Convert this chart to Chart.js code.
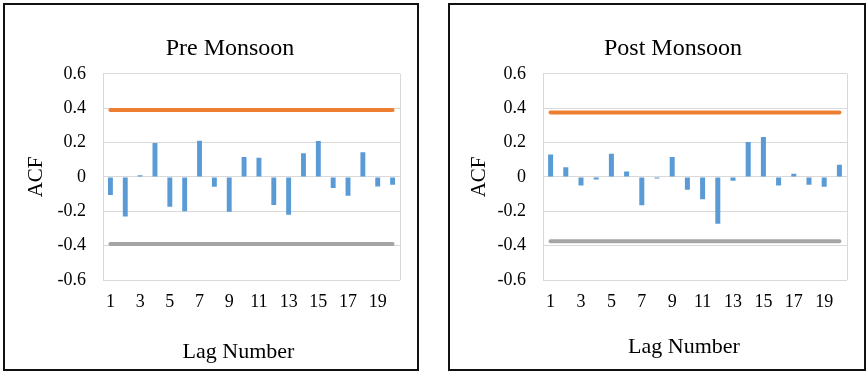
<!DOCTYPE html>
<html>
<head>
<meta charset="utf-8">
<script src="https://cdn.jsdelivr.net/npm/chart.js@4.4.1/dist/chart.umd.min.js"></script>
<style>
  body { margin: 0; background: #fff; width: 867px; height: 372px; position: relative; overflow: hidden; }
  .panel { position: absolute; top: 3px; height: 368px; border: 2px solid #111; box-sizing: border-box; }
  #p1 { left: 3px; width: 416px; }
  #p2 { left: 448px; width: 418px; }
  canvas { display: block; }
</style>
</head>
<body>
<div class="panel" id="p1"><canvas id="pre"></canvas></div>
<div class="panel" id="p2"><canvas id="post"></canvas></div>
<script>
const lags = ['1','2','3','4','5','6','7','8','9','10','11','12','13','14','15','16','17','18','19','20'];
const preAcf = [-0.106, -0.23, 0.01, 0.197, -0.174, -0.2, 0.211, -0.058, -0.203, 0.116,
                0.112, -0.163, -0.22, 0.137, 0.209, -0.064, -0.11, 0.143, -0.056, -0.045];
const postAcf = [0.13, 0.056, -0.05, -0.015, 0.135, 0.031, -0.165, -0.01, 0.116, -0.075,
                 -0.13, -0.273, -0.023, 0.203, 0.232, -0.05, 0.019, -0.046, -0.058, 0.07];
const preLimit = 0.39;
const postLimit = 0.375;
const yTicks = [-0.6, -0.4, -0.2, 0, 0.2, 0.4, 0.6];

const serif = 'Liberation Serif';

// light frame on the right side of the plot area, like Excel draws it
const plotEdge = {
  id: 'plotEdge',
  afterDraw(chart) {
    const {ctx, chartArea} = chart;
    ctx.save();
    ctx.strokeStyle = '#d9d9d9';
    ctx.lineWidth = 1;
    ctx.beginPath();
    ctx.moveTo(chartArea.right + 0.5, chartArea.top);
    ctx.lineTo(chartArea.right + 0.5, chartArea.bottom);
    ctx.stroke();
    ctx.restore();
  }
};

// nudge chart title and x title sideways (Excel does not centre them on the canvas)
const titleShift = {
  id: 'titleShift',
  afterLayout(chart, args, opts) {
    chart.titleBlock.left += opts.title;
    chart.titleBlock.right += opts.title;
    const sx = chart.scales.x;
    if (!sx._shifted) {
      const orig = sx.drawTitle;
      const dx = opts.xTitle;
      sx.drawTitle = function () {
        this.ctx.save();
        this.ctx.translate(dx, 0);
        orig.call(this);
        this.ctx.restore();
      };
      sx._shifted = true;
    }
  }
};

function makeChart(id, w, h, title, values, limit, padLeft, yWidth, xTitleBottom, shift) {
  const canvas = document.getElementById(id);
  canvas.width = w;
  canvas.height = h;
  return new Chart(canvas.getContext('2d'), {
    type: 'bar',
    data: {
      labels: lags,
      datasets: [
        {
          type: 'line',
          label: 'Upper',
          data: [{x: lags[0], y: limit}, {x: lags[lags.length - 1], y: limit}],
          borderColor: '#ED7D31',
          borderWidth: 4,
          borderCapStyle: 'round',
          pointRadius: 0
        },
        {
          type: 'line',
          label: 'Lower',
          data: [{x: lags[0], y: -limit}, {x: lags[lags.length - 1], y: -limit}],
          borderColor: '#A5A5A5',
          borderWidth: 4,
          borderCapStyle: 'round',
          pointRadius: 0
        },
        {
          label: 'ACF',
          data: values,
          backgroundColor: '#5B9BD5',
          barPercentage: 0.33,
          categoryPercentage: 1
        }
      ]
    },
    options: {
      responsive: false,
      animation: false,
      layout: { padding: { top: 29, left: padLeft, right: 17, bottom: 2 } },
      scales: {
        x: {
          afterFit: function (axis) { axis.height = 87; },
          grid: { display: false, drawTicks: false },
          border: { display: false },
          ticks: {
            autoSkip: false,
            maxRotation: 0,
            padding: 11,
            color: '#000',
            font: { family: serif, size: 18 },
            callback: function (v, i) { return i % 2 === 0 ? lags[i] : ''; }
          },
          title: {
            display: true,
            text: 'Lag Number',
            color: '#000',
            font: { family: serif, size: 22 },
            padding: { top: 0, bottom: xTitleBottom }
          }
        },
        y: {
          min: -0.6,
          max: 0.6,
          afterFit: function (axis) { axis.width = yWidth; },
          afterBuildTicks: function (axis) { axis.ticks = yTicks.map(v => ({value: v})); },
          grid: { color: '#d9d9d9', drawTicks: false },
          border: { color: '#d9d9d9' },
          ticks: {
            padding: 17,
            color: '#000',
            font: { family: serif, size: 18 },
            callback: function (v) { return String(Number(v.toFixed(1))); }
          },
          title: {
            display: true,
            text: 'ACF',
            color: '#000',
            font: { family: serif, size: 21 },
            padding: { top: 0, bottom: 0 }
          }
        }
      },
      plugins: {
        legend: { display: false },
        tooltip: { enabled: false },
        titleShift: shift,
        title: {
          display: true,
          text: title,
          color: '#000',
          font: { family: serif, size: 24, weight: 'normal' },
          padding: { top: 0, bottom: 11 }
        }
      }
    },
    plugins: [plotEdge, titleShift]
  });
}

makeChart('pre', 412, 364, 'Pre Monsoon', preAcf, preLimit, 19, 79, 2, {title: 18, xTitle: -13});
makeChart('post', 414, 364, 'Post Monsoon', postAcf, postLimit, 17, 76, 7, {title: 16, xTitle: -11});
</script>
</body>
</html>
